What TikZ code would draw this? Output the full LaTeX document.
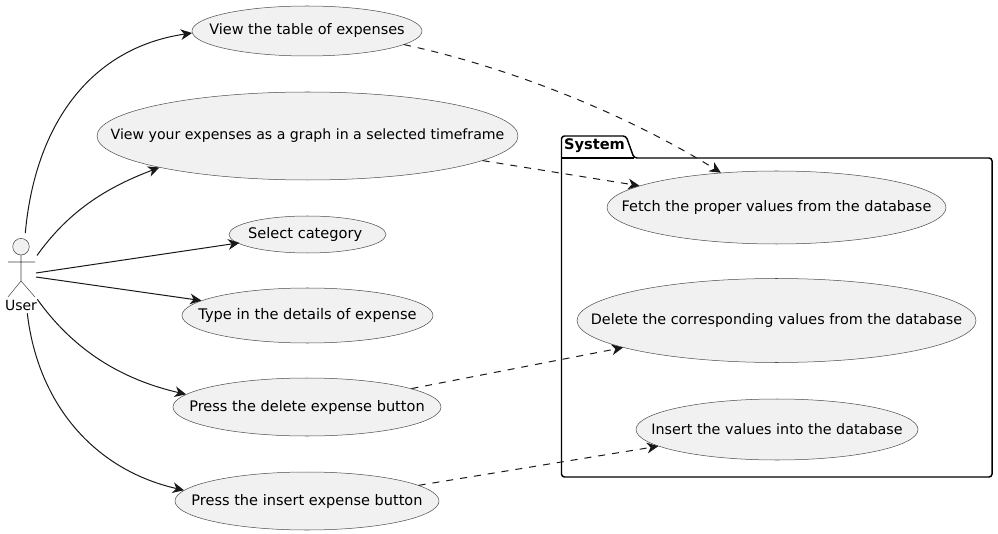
\documentclass[tikz,border=0pt]{standalone}
\usepackage{fontspec}
\setmainfont{DejaVu Sans}
\usetikzlibrary{shapes.geometric,arrows.meta}
\newcommand{\lbl}[1]{\makebox[0pt][c]{#1}}
\tikzset{
 x=0.75pt,y=-0.75pt,
 uc/.style={ellipse,draw=black!70!white,line width=0.38pt,fill=uclfill,inner sep=0pt,font=\fontsize{#1pt}{12pt}\selectfont},
 arr/.style={line width=0.75pt,draw=linec,-{Stealth[length=8.5pt,width=8pt,inset=2.6pt]}},
 dep/.style={arr,dash pattern=on 5.25pt off 5.25pt},
 act/.style={line width=0.38pt,draw=black!75!white},
 pkg/.style={line width=1.1pt,draw=black,line join=round},
}
\definecolor{uclfill}{HTML}{F1F1F1}
\definecolor{linec}{HTML}{181818}
\begin{document}
\begin{tikzpicture}
\useasboundingbox (0,0) rectangle (998,534);
% package
\draw[pkg,rounded corners=2.2pt] (561.5,158) -- (561.5,141) -- ++(0,-5) -- (626,136) -- (634,158) -- (992,158) -- (992,477) -- (561.5,477) -- cycle;
\draw[pkg] (561.5,158) -- (634,158);
\node[font=\bfseries\fontsize{10.95pt}{12pt}\selectfont,anchor=center,inner sep=0pt] (sys) at (594.5,146) {System};
% actor
\node[circle,draw=black!75!white,line width=0.38pt,fill=uclfill,minimum size=12.4pt,inner sep=0pt] (head) at (21,246.7) {};
\coordinate (hip) at (21,281);
\coordinate (armL) at (8,262);
\coordinate (armR) at (35,262);
\coordinate (legL) at (8,297);
\coordinate (legR) at (35,297);
\draw[act] (head.south) -- (hip) (armL) -- (armR) (legL) -- (hip) -- (legR);
\node[font=\fontsize{10.5pt}{12pt}\selectfont,inner sep=0pt] (user) at (21,305) {User};
% use cases
\node[uc=10.85,minimum width=172.5pt,minimum height=37.5pt] (a) at (307,31) {\lbl{View the table of expenses}};
\node[uc=10.6,minimum width=315.75pt,minimum height=66pt] (b) at (307.5,136) {\lbl{View your expenses as a graph in a selected timeframe}};
\node[uc=10.95,minimum width=117.75pt,minimum height=27.75pt] (c) at (307.5,234.5) {\lbl{Select category\ }};
\node[uc=10.95,minimum width=188.25pt,minimum height=41.25pt] (d) at (307.5,315.5) {\lbl{Type in the details of expense}};
\node[uc=10.9,minimum width=201pt,minimum height=43.5pt] (e) at (307,407) {\lbl{Press the delete expense button}};
\node[uc=10.9,minimum width=198pt,minimum height=43.5pt] (f) at (307,501) {\lbl{Press the insert expense button}};
\node[uc=10.85,minimum width=254.25pt,minimum height=54.75pt] (s) at (776.5,207.5) {\lbl{Fetch the proper values from the database}};
\node[uc=10.78,minimum width=299.25pt,minimum height=63pt] (t) at (776.5,320.5) {\lbl{Delete the corresponding values from the database}};
\node[uc=10.74,minimum width=211.5pt,minimum height=45.75pt] (u) at (777,429.5) {\lbl{Insert the values into the database}};
% start points
\coordinate (ua) at (25.3,233);
\coordinate (ub) at (37,255.5);
\coordinate (uc1) at (36,273);
\coordinate (ud) at (36,277);
\coordinate (ue) at (37.3,299.3);
\coordinate (uf) at (27.3,313.3);
% solid edges
\draw[arr] (ua) .. controls (35,125) and (90,48) .. (a.181.3);
\draw[arr] (ub) .. controls (68,212) and (105,188) .. (b.192.4);
\draw[arr,shorten >=-1.5pt] (uc1) -- (c.187);
\draw[arr] (ud) -- (d.172.5);
\draw[arr] (ue) .. controls (70,345) and (115,378) .. (e.174.2);
\draw[arr] (uf) .. controls (38,405) and (95,470) .. (f.175.9);
% dashed edges
\draw[dep] (a.-8) .. controls (500,65) and (620,110) .. (s.148.6);
\draw[dep] (b.-8.5) -- (s.171.5);
\draw[dep] (e.10.7) -- (t.190.5);
\draw[dep] (f.8.5) -- (u.188.1);
\end{tikzpicture}
\end{document}
